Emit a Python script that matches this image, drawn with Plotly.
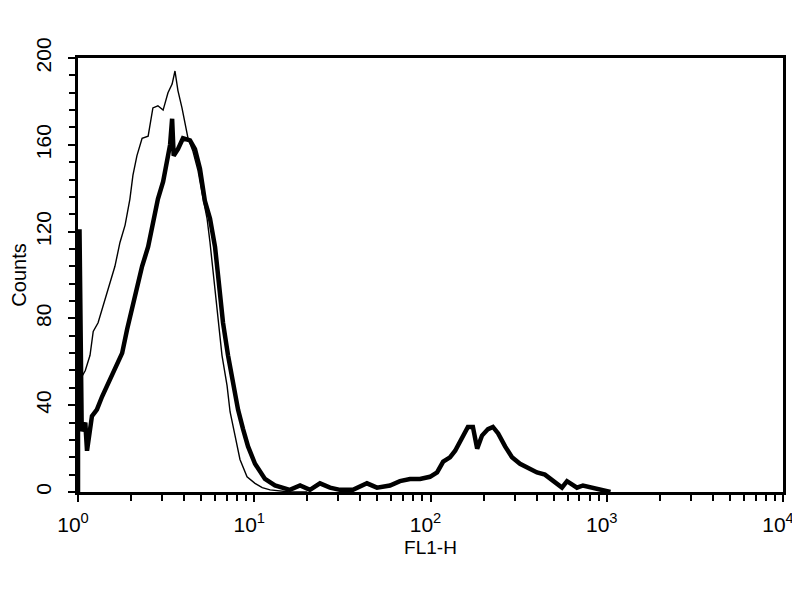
import plotly.graph_objects as go

# FL1-H histogram
# control (thin line)
ctrl_x = [1.0, 1.10, 1.17, 1.22, 1.30, 1.39, 1.48, 1.62, 1.73, 1.85, 1.97, 2.05,
          2.16, 2.31, 2.50, 2.66, 2.84, 3.04, 3.24, 3.42, 3.55, 3.69, 3.89, 4.05,
          4.21, 4.49, 4.80, 5.05, 5.40, 5.61, 5.83, 6.07, 6.31, 6.56, 7.01, 7.29,
          7.78, 8.30, 9.10, 10.1, 11.1, 12.3, 15.9, 20.0]
ctrl_counts = [50, 56, 63, 74, 78, 86, 94, 104, 115, 123, 135, 146,
               155, 163, 164, 177, 178, 176, 184, 188, 194, 185, 177, 169,
               163, 157, 148, 138, 126, 115, 102, 88, 75, 63, 49, 37,
               26, 15, 7, 4, 2, 1, 0, 0]

# stained sample (thick line)
samp_x = [1.0, 1.0, 1.02, 1.05, 1.10, 1.125, 1.20, 1.28, 1.37, 1.48, 1.58, 1.66, 1.78, 1.90,
          2.02, 2.16, 2.31, 2.50, 2.66, 2.84, 3.04, 3.24, 3.33, 3.42, 3.49, 3.69,
          3.94, 4.32, 4.61, 4.92, 5.25, 5.61, 5.99, 6.23, 6.65, 7.10, 7.57, 8.09,
          8.64, 9.22, 10.1, 11.5, 13.1, 14.6, 15.9, 18.2, 20.7, 23.6, 26.9, 30.7,
          36.3, 43.6, 49.7, 58.9, 67.1, 76.5, 87.2, 99.3, 109, 118, 129, 138,
          147, 157, 163, 174, 184, 196, 212, 226, 242, 265, 290, 322,
          357, 402, 446, 496, 557, 595, 678, 733, 836, 916, 1050]
samp_counts = [0, 120, 120, 28, 32, 19, 35, 38, 44, 50, 55, 58, 64, 75,
               84, 96, 104, 113, 123, 135, 143, 154, 160, 172, 155, 158,
               163, 162, 158, 149, 134, 126, 113, 100, 78, 63, 50, 38,
               29, 21, 13, 6, 3, 2, 1, 3, 1, 4, 2, 1,
               1, 4, 2, 3, 5, 6, 6, 7, 9, 14, 16, 19,
               23, 27, 30, 30, 20, 26, 29, 30, 27, 21, 16, 13,
               11, 9, 8, 5, 2, 5, 2, 3, 2, 1, 0]

x_major = [1, 10, 100, 1000, 10000]
x_exponents = ["0", "1", "2", "3", "4"]
y_major = [0, 40, 80, 120, 160, 200]

x_ticktext = ["10<sup>%s</sup>" % e for e in x_exponents]
x_minor = [d * m for d in x_major[:-1] for m in range(2, 10)]
y_minor = [v for v in range(0, 201, 8) if v not in y_major]

fig = go.Figure()
fig.add_trace(go.Scatter(x=ctrl_x, y=ctrl_counts, mode="lines",
                         line=dict(color="black", width=1.4)))
fig.add_trace(go.Scatter(x=samp_x, y=samp_counts, mode="lines",
                         line=dict(color="black", width=4.5)))

font = dict(family="Liberation Sans, Arial, sans-serif", size=20, color="black")

# page body has an 8px margin, so margins are shifted to land the frame at 78..783 / 58..492
fig.update_layout(
    width=800, height=600,
    margin=dict(l=70, r=25, t=50, b=116),
    paper_bgcolor="white", plot_bgcolor="white",
    showlegend=False,
    font=font,
)
fig.update_xaxes(
    type="log", range=[0, 4],
    tickmode="array", tickvals=x_major, ticktext=x_ticktext,
    tickfont=dict(size=21),
    ticks="outside", ticklen=7, tickwidth=2, tickcolor="black",
    minor=dict(tickmode="array", tickvals=x_minor, ticks="outside",
               ticklen=6, tickwidth=2, tickcolor="black", showgrid=False),
    showline=True, linecolor="black", linewidth=2.5, mirror=True,
    showgrid=False, zeroline=False, automargin=False,
    ticklabelstandoff=5, ticklabelshift=-5,
    title=dict(text="FL1-H", font=dict(size=19), standoff=6),
)
fig.update_yaxes(
    range=[0, 200],
    tickmode="array", tickvals=y_major, tickangle=-90,
    tickfont=dict(size=21),
    ticks="outside", ticklen=7, tickwidth=2, tickcolor="black",
    minor=dict(tickmode="array", tickvals=y_minor, ticks="outside",
               ticklen=6, tickwidth=2, tickcolor="black", showgrid=False),
    showline=True, linecolor="black", linewidth=2.5, mirror=True,
    showgrid=False, zeroline=False, automargin=False,
    ticklabelstandoff=9,
    title=dict(text="Counts", font=dict(size=20), standoff=4),
)

fig.write_html("out.html")
